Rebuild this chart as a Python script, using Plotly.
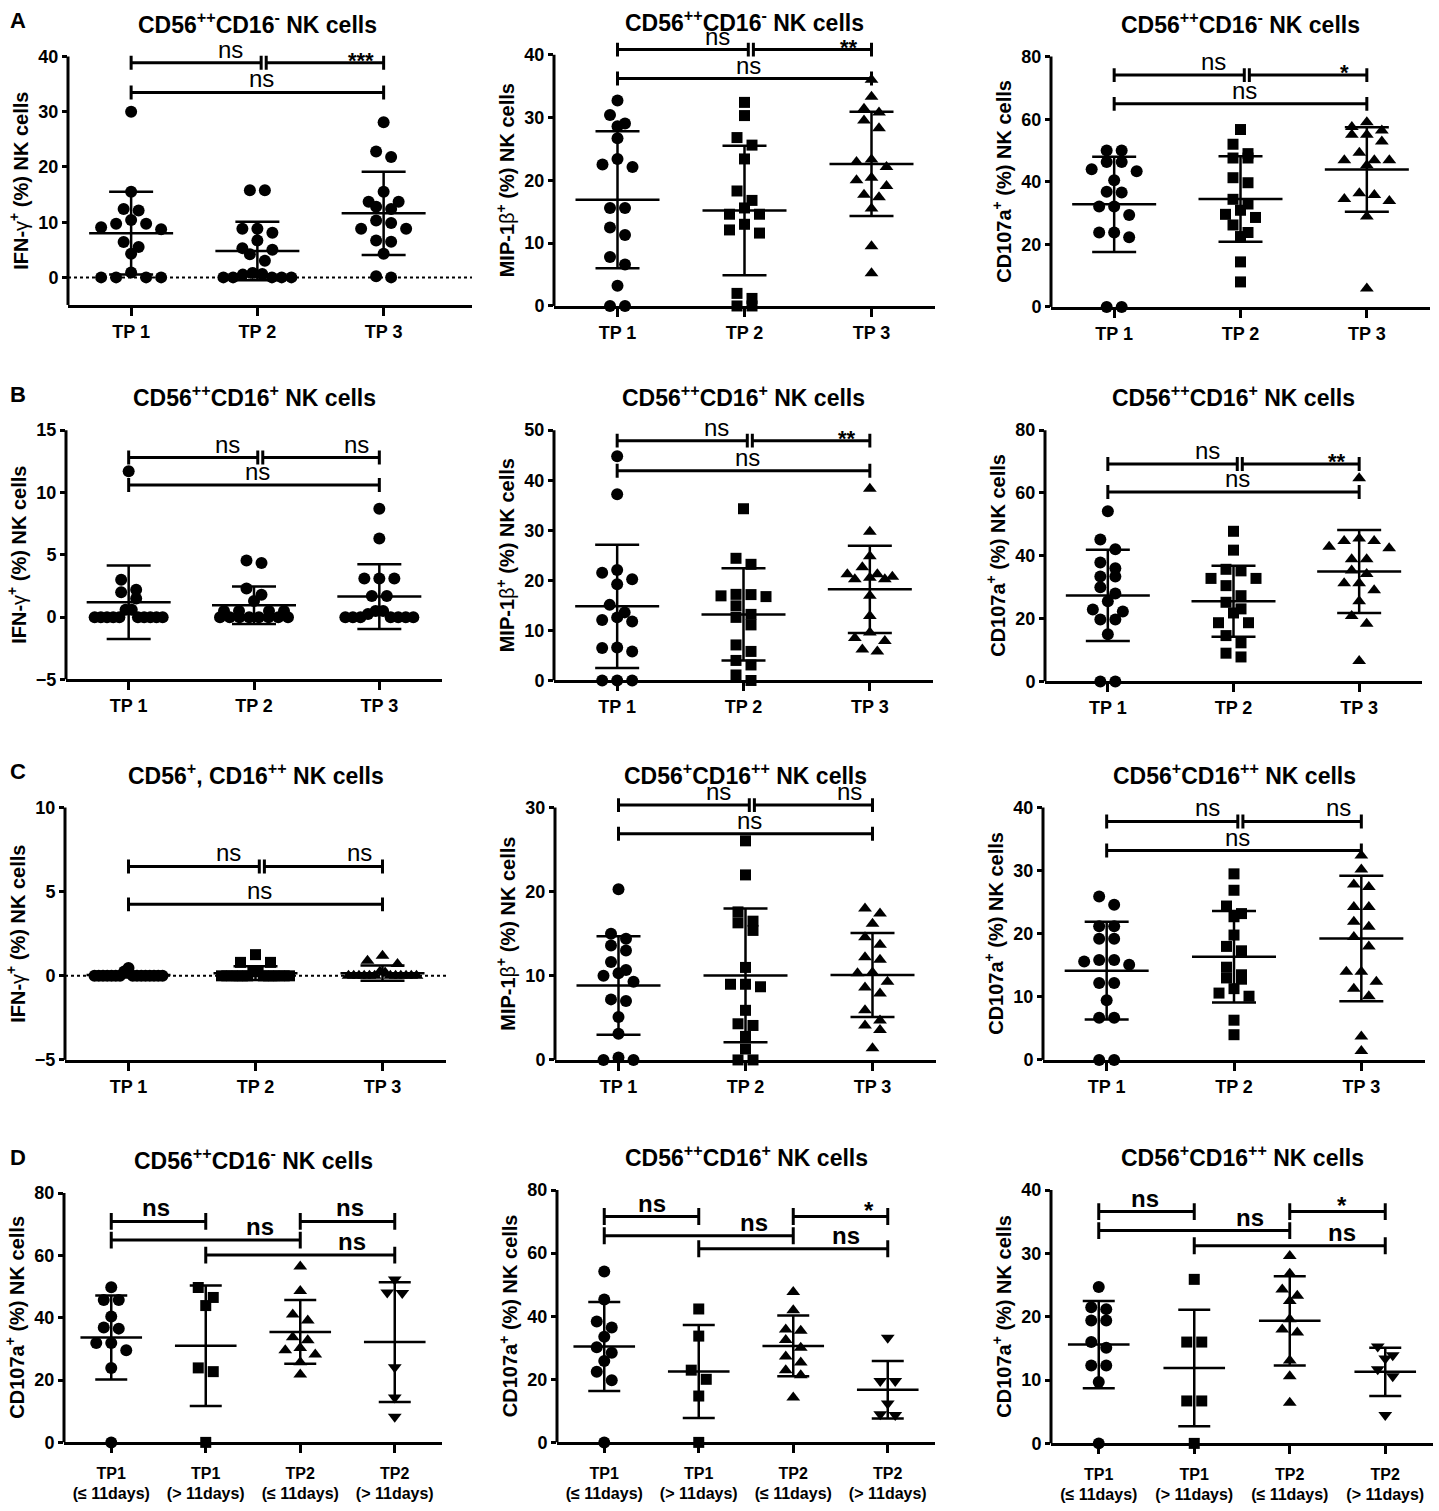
import plotly.graph_objects as go

W, H = 1439, 1511
FONT = "Arial, Liberation Sans, sans-serif"

# ---------------- data ----------------
TP3_LABELS = ["TP 1", "TP 2", "TP 3"]
TP4_LABELS = ["TP1<br>(≤ 11days)", "TP1<br>(> 11days)", "TP2<br>(≤ 11days)", "TP2<br>(> 11days)"]

# row A - CD56++CD16-
A1_TP1 = [30.0, 15.5, 12.4, 12.1, 10.4, 9.7, 9.7, 9.1, 8.7, 6.4, 5.5, 4.3, 0.9, 0, 0, 0, 0]
A1_TP2 = [15.8, 15.8, 8.8, 8.8, 8.1, 6.7, 5.3, 5.0, 4.2, 3.0, 0.8, 0.6, 0.5, 0, 0, 0, 0, 0]
A1_TP3 = [28.1, 22.8, 21.8, 15.5, 13.7, 13.7, 12.8, 12.4, 10.3, 9.85, 8.8, 8.8, 6.7, 6.45, 4.3, 0.2, 0]
A1_MEAN = [8.0, 4.8, 11.6]
A1_SD = [7.5, 5.3, 7.55]
A1_BRACKET_Y = [38.9, 33.5]
A1_STARS = ["ns", "***", "ns"]

A2_TP1 = [32.7, 30.4, 29.05, 28.6, 26.7, 23.4, 22.5, 22.1, 15.6, 15.6, 12.5, 11.3, 7.8, 6.6, 3.2, 0, 0]
A2_TP2 = [32.4, 30.3, 26.8, 25.6, 23.4, 18.3, 16.8, 15.6, 14.6, 14.6, 13.0, 12.1, 11.6, 2.0, 1.2, 0, 0]
A2_TP3 = [36.0, 33.3, 31.4, 30.8, 29.5, 28.3, 23.3, 22.9, 22.1, 20.4, 20.0, 19.1, 17.7, 17.3, 15.5, 9.5, 5.2]
A2_MEAN = [16.9, 15.2, 22.6]
A2_SD = [10.9, 10.3, 8.3]
A2_BRACKET_Y = [40.8, 36.2]
A2_STARS = ["ns", "**", "ns"]

A3_TP1 = [50.0, 50.0, 46.3, 46.3, 44.0, 43.4, 40.5, 36.8, 36.6, 32.1, 32.1, 29.4, 23.8, 23.8, 22.3, 0, 0]
A3_TP2 = [56.7, 52.0, 49.0, 47.6, 47.6, 41.3, 39.7, 34.4, 32.9, 30.9, 29.6, 28.6, 26.2, 23.8, 22.5, 14.4, 8.0]
A3_TP3 = [59.0, 57.5, 56.4, 55.0, 55.0, 52.9, 49.3, 46.9, 46.9, 46.9, 45.3, 36.3, 35.8, 34.5, 33.9, 28.9, 5.9]
A3_MEAN = [32.8, 34.5, 43.9]
A3_SD = [15.2, 13.7, 13.5]
A3_BRACKET_Y = [74.1, 64.9]
A3_STARS = ["ns", "*", "ns"]

# row B - CD56++CD16+
B1_TP1 = [11.7, 3.0, 2.2, 2.0, 1.5, 0.6, 0.6, 0, 0, 0, 0, 0, 0, 0, 0, 0, 0]
B1_TP2 = [4.55, 4.35, 2.3, 1.8, 1.3, 0.5, 0.5, 0.5, 0.5, 0, 0, 0, 0, 0, 0, 0, 0]
B1_TP3 = [8.7, 6.3, 3.1, 3.1, 3.1, 1.7, 1.7, 0.5, 0.5, 0.25, 0, 0, 0, 0, 0, 0, 0]
B1_MEAN = [1.2, 0.95, 1.65]
B1_SD = [2.95, 1.5, 2.6]
B1_BRACKET_Y = [12.8, 10.6]
B1_STARS = ["ns", "ns", "ns"]

B2_TP1 = [44.8, 37.2, 22.05, 21.5, 20.2, 19.2, 15.1, 13.6, 12.6, 12.1, 11.8, 6.6, 6.5, 5.8, 0, 0, 0]
B2_TP2 = [34.3, 24.4, 23.2, 17.2, 17.15, 16.9, 16.75, 14.9, 13.2, 12.6, 11.1, 7.1, 5.8, 4.0, 3.1, 1.1, 0]
B2_TP3 = [38.3, 29.7, 24.8, 22.6, 21.2, 21.2, 20.7, 20.5, 20.2, 20.2, 16.9, 12.9, 9.6, 8.5, 7.9, 6.2, 5.8]
B2_MEAN = [14.8, 13.2, 18.2]
B2_SD = [12.3, 9.2, 8.7]
B2_BRACKET_Y = [47.9, 41.9]
B2_STARS = ["ns", "**", "ns"]

B3_TP1 = [54.2, 45.2, 42.1, 37.9, 36.0, 33.4, 33.4, 30.0, 28.0, 25.5, 22.9, 22.3, 19.7, 19.7, 15.0, 0, 0]
B3_TP2 = [47.8, 41.8, 35.7, 35.2, 32.8, 32.8, 30.5, 27.3, 25.2, 23.1, 21.8, 18.7, 18.7, 14.6, 12.3, 9.0, 7.8]
B3_TP3 = [64.7, 45.5, 44.7, 44.7, 42.9, 42.4, 38.9, 38.9, 35.3, 34.2, 31.3, 31.3, 29.0, 25.5, 20.8, 18.4, 6.5]
B3_MEAN = [27.4, 25.5, 35.0]
B3_SD = [14.5, 11.3, 13.2]
B3_BRACKET_Y = [69.2, 60.3]
B3_STARS = ["ns", "**", "ns"]

# row C - CD56+CD16++
C1_TP1 = [0.47, 0.26, 0, 0, 0, 0, 0, 0, 0, 0, 0, 0, 0, 0, 0, 0, 0]
C1_TP2 = [1.26, 0.8, 0.8, 0.25, 0.25, 0, 0, 0, 0, 0, 0, 0, 0, 0, 0, 0, 0]
C1_TP3 = [1.2, 0.9, 0.7, 0.25, 0.2, 0, 0, 0, 0, 0, 0, 0, 0, 0, 0, 0, 0]
C1_MEAN = [0.05, 0.16, 0.16]
C1_SD = [0.15, 0.41, 0.45]
C1_BRACKET_Y = [6.5, 4.25]
C1_STARS = ["ns", "ns", "ns"]

C2_TP1 = [20.3, 15.0, 14.4, 13.6, 13.0, 11.65, 10.7, 10.3, 10.0, 9.3, 7.2, 7.0, 5.1, 3.1, 0.3, 0, 0]
C2_TP2 = [26.05, 22.0, 17.6, 16.5, 16.3, 15.4, 11.0, 9.0, 9.0, 8.7, 5.9, 4.3, 4.1, 2.8, 1.3, 0, 0]
C2_TP3 = [18.0, 17.4, 16.2, 14.6, 13.7, 12.2, 11.9, 10.4, 10.3, 9.3, 8.6, 7.9, 5.9, 4.7, 4.1, 3.55, 1.4]
C2_MEAN = [8.85, 10.05, 10.1]
C2_SD = [5.85, 7.95, 5.0]
C2_BRACKET_Y = [30.3, 26.9]
C2_STARS = ["ns", "ns", "ns"]

C3_TP1 = [25.9, 24.6, 21.2, 21.2, 19.2, 19.2, 15.85, 15.85, 15.6, 15.1, 12.2, 12.2, 9.45, 6.7, 6.7, 0, 0]
C3_TP2 = [29.5, 26.9, 24.4, 23.2, 22.7, 19.8, 18.0, 17.3, 14.7, 13.5, 13.0, 12.8, 11.3, 10.6, 10.1, 6.3, 4.0]
C3_TP3 = [32.4, 30.2, 27.8, 27.4, 24.25, 24.25, 21.9, 21.1, 19.5, 18.0, 14.0, 14.0, 12.4, 11.3, 10.1, 3.7, 1.4]
C3_MEAN = [14.15, 16.35, 19.25]
C3_SD = [7.75, 7.25, 9.95]
C3_BRACKET_Y = [37.8, 33.2]
C3_STARS = ["ns", "ns", "ns"]

# row D - CD107a by days
D1_G1 = [49.8, 45.7, 45.7, 40.4, 36.9, 36.5, 31.9, 31.9, 29.6, 23.9, 0]
D1_G2 = [49.7, 46.5, 43.9, 23.9, 22.7, 0]
D1_G3 = [56.4, 48.6, 41.0, 39.1, 33.7, 32.8, 30.3, 29.6, 28.2, 25.7, 21.8]
D1_G4 = [52.3, 48.1, 47.9, 24.1, 14.4, 8.2]
D1_MEAN = [33.65, 31.0, 35.45, 32.2]
D1_SD = [13.45, 19.3, 10.25, 19.2]
D1_BRACKET_Y = [70.9, 64.9, 60.1]
D1_STARS = ["ns", "ns", "ns", "ns"]
D1_STAR_X = [1.47, 3.53, 2.57, 3.55]

D2_G1 = [54.2, 45.3, 38.3, 36.4, 33.5, 30.2, 28.4, 25.8, 22.4, 19.7, 0]
D2_G2 = [42.3, 33.7, 22.9, 20.0, 14.7, 0]
D2_G3 = [47.7, 41.9, 35.8, 35.4, 32.5, 30.0, 27.2, 25.3, 22.9, 21.3, 14.2]
D2_G4 = [33.2, 19.5, 19.5, 12.3, 8.9, 8.7]
D2_MEAN = [30.4, 22.45, 30.6, 16.7]
D2_SD = [14.1, 14.75, 9.6, 9.1]
D2_BRACKET_Y = [71.6, 65.5, 61.4]
D2_STARS = ["ns", "*", "ns", "ns"]
D2_STAR_X = [1.5, 3.8, 2.58, 3.56]

D3_G1 = [24.7, 21.5, 21.2, 19.4, 19.4, 16.0, 15.1, 12.3, 12.3, 9.7, 0]
D3_G2 = [25.9, 16.0, 16.0, 6.7, 6.7, 0]
D3_G3 = [29.6, 26.8, 24.3, 23.3, 22.5, 19.6, 18.0, 17.5, 13.1, 10.6, 6.4]
D3_G4 = [15.3, 13.9, 13.4, 11.7, 10.6, 4.5]
D3_MEAN = [15.6, 11.9, 19.35, 11.3]
D3_SD = [6.9, 9.2, 7.05, 3.8]
D3_BRACKET_Y = [36.6, 33.6, 31.2]
D3_STARS = ["ns", "*", "ns", "ns"]
D3_STAR_X = [1.48, 3.55, 2.58, 3.55]

# ---------------- text ----------------
T_A = "CD56<sup>++</sup>CD16<sup>-</sup> NK cells"
T_B = "CD56<sup>++</sup>CD16<sup>+</sup> NK cells"
T_C1 = "CD56<sup>+</sup>, CD16<sup>++</sup> NK cells"
T_C = "CD56<sup>+</sup>CD16<sup>++</sup> NK cells"
Y_IFN = 'IFN-<span style="font-weight:normal">γ</span><sup>+</sup> (%) NK cells'
Y_MIP = 'MIP-1<span style="font-weight:normal">β</span><sup>+</sup> (%) NK cells'
Y_CD107 = "CD107a<sup>+</sup> (%) NK cells"

# bracket layout: (x start, x end, level)
BRK3 = [(1, 2.03, 0), (2.07, 3, 0), (1, 3, 1)]
BRK3_X = [1.79, 2.82, 2.03]
BRK4 = [(1, 2, 0), (3, 4, 0), (1, 3, 1), (2, 4, 2)]

MIXED = ["circle", "square", "triangle-up", "triangle-down"]
DOTS = ["circle", "circle", "circle"]
SIZE = {"circle": 12, "square": 11, "triangle-up": 12, "triangle-down": 12}

panels = [
    dict(letter="A", title=T_A, ytitle=Y_IFN, groups=[A1_TP1, A1_TP2, A1_TP3], mean=A1_MEAN, sd=A1_SD,
         yr=(-5, 40), yticks=[0, 10, 20, 30, 40], by=A1_BRACKET_Y, stars=A1_STARS, zero=True,
         box=(68, 472, 57, 307), xr=(0.5, 3.7), symbols=DOTS),
    dict(title=T_A, ytitle=Y_MIP, groups=[A2_TP1, A2_TP2, A2_TP3], mean=A2_MEAN, sd=A2_SD,
         yr=(0, 40), yticks=[0, 10, 20, 30, 40], by=A2_BRACKET_Y, stars=A2_STARS,
         box=(554, 935, 55, 308)),
    dict(title=T_A, ytitle=Y_CD107, groups=[A3_TP1, A3_TP2, A3_TP3], mean=A3_MEAN, sd=A3_SD,
         yr=(0, 80), yticks=[0, 20, 40, 60, 80], by=A3_BRACKET_Y, stars=A3_STARS,
         box=(1051, 1430, 57, 309)),
    dict(letter="B", title=T_B, ytitle=Y_IFN, groups=[B1_TP1, B1_TP2, B1_TP3], mean=B1_MEAN, sd=B1_SD,
         yr=(-5, 15), yticks=[-5, 0, 5, 10, 15], by=B1_BRACKET_Y, stars=B1_STARS,
         box=(66, 442, 433, 684), symbols=DOTS),
    dict(title=T_B, ytitle=Y_MIP, groups=[B2_TP1, B2_TP2, B2_TP3], mean=B2_MEAN, sd=B2_SD,
         yr=(0, 50), yticks=[0, 10, 20, 30, 40, 50], by=B2_BRACKET_Y, stars=B2_STARS,
         box=(554, 933, 433, 685)),
    dict(title=T_B, ytitle=Y_CD107, groups=[B3_TP1, B3_TP2, B3_TP3], mean=B3_MEAN, sd=B3_SD,
         yr=(0, 80), yticks=[0, 20, 40, 60, 80], by=B3_BRACKET_Y, stars=B3_STARS,
         box=(1045, 1422, 433, 686)),
    dict(letter="C", title=T_C1, ytitle=Y_IFN, groups=[C1_TP1, C1_TP2, C1_TP3], mean=C1_MEAN, sd=C1_SD,
         yr=(-5, 10), yticks=[-5, 0, 5, 10], by=C1_BRACKET_Y, stars=C1_STARS, zero=True,
         box=(65, 446, 813, 1067)),
    dict(title=T_C, ytitle=Y_MIP, groups=[C2_TP1, C2_TP2, C2_TP3], mean=C2_MEAN, sd=C2_SD,
         yr=(0, 30), yticks=[0, 10, 20, 30], by=C2_BRACKET_Y, stars=C2_STARS,
         box=(555, 936, 813, 1067)),
    dict(title=T_C, ytitle=Y_CD107, groups=[C3_TP1, C3_TP2, C3_TP3], mean=C3_MEAN, sd=C3_SD,
         yr=(0, 40), yticks=[0, 10, 20, 30, 40], by=C3_BRACKET_Y, stars=C3_STARS,
         box=(1043, 1425, 813, 1067)),
    dict(letter="D", title=T_A, ytitle=Y_CD107, groups=[D1_G1, D1_G2, D1_G3, D1_G4], mean=D1_MEAN, sd=D1_SD,
         yr=(0, 80), yticks=[0, 20, 40, 60, 80], by=D1_BRACKET_Y, stars=D1_STARS, starx=D1_STAR_X,
         box=(64, 442, 1201, 1452)),
    dict(title=T_B, ytitle=Y_CD107, groups=[D2_G1, D2_G2, D2_G3, D2_G4], mean=D2_MEAN, sd=D2_SD,
         yr=(0, 80), yticks=[0, 20, 40, 60, 80], by=D2_BRACKET_Y, stars=D2_STARS, starx=D2_STAR_X,
         box=(557, 935, 1198, 1452)),
    dict(title=T_C, ytitle=Y_CD107, groups=[D3_G1, D3_G2, D3_G3, D3_G4], mean=D3_MEAN, sd=D3_SD,
         yr=(0, 40), yticks=[0, 10, 20, 30, 40], by=D3_BRACKET_Y, stars=D3_STARS, starx=D3_STAR_X,
         box=(1051, 1433, 1198, 1453)),
]


def spread(vals, ppu, ppc, diam=12.0, step=15.0, half=34.0):
    # GraphPad-like horizontal spreading of points with close values
    order = sorted(range(len(vals)), key=lambda i: -vals[i])
    rows = []
    for i in order:
        if rows and rows[-1][0] - vals[i] < 0.85 * diam / ppu:
            rows[-1][1].append(i)
        else:
            rows.append((vals[i], [i]))
    offs = [0.0] * len(vals)
    for _, idx in rows:
        k = len(idx)
        gap = step if k == 1 else min(step, 2 * half / (k - 1))
        slots = sorted([j - (k - 1) / 2 for j in range(k)], key=lambda s: (abs(s), s))
        for i, s in zip(idx, slots):
            offs[i] = s * gap / ppc
    return offs


fig = go.Figure()
annotations = []
shapes = []
layout = {}

for n, p in enumerate(panels, start=1):
    xa = "x" if n == 1 else f"x{n}"
    ya = "y" if n == 1 else f"y{n}"
    left, right, top, bottom = p["box"]
    y0, y1 = p["yr"]
    ncat = len(p["groups"])
    four = ncat == 4
    xr0, xr1 = p.get("xr", (0.5, ncat + 0.5))
    ppu = (bottom - top) / (y1 - y0)
    ppc = (right - left) / (xr1 - xr0)
    ext = 0.1 * (y1 - y0)
    cats = list(range(1, ncat + 1))
    symbols = p.get("symbols", MIXED)

    for i, vals in enumerate(p["groups"]):
        offs = spread(vals, ppu, ppc)
        fig.add_trace(go.Scatter(
            x=[cats[i] + o for o in offs], y=vals, mode="markers",
            marker=dict(symbol=symbols[i], size=SIZE[symbols[i]], color="black", line=dict(width=0)),
            xaxis=xa, yaxis=ya, cliponaxis=False, showlegend=False, hoverinfo="y"))

    # mean +/- SD
    fig.add_trace(go.Scatter(
        x=cats, y=p["mean"], mode="markers",
        marker=dict(symbol="line-ew", size=44 if four else 60, color="black",
                    line=dict(width=2.5, color="black")),
        error_y=dict(type="data", array=p["sd"], width=16 if four else 22,
                     thickness=2.5, color="black"),
        xaxis=xa, yaxis=ya, cliponaxis=False, showlegend=False, hoverinfo="y"))

    # significance brackets
    h = (8.5 if four else 7.0) / ppu
    bx, by = [], []
    spec = BRK4 if four else BRK3
    labx = p.get("starx", BRK3_X)
    for (bx0, bx1, lvl), txt, lx in zip(spec, p["stars"], labx):
        yb = p["by"][lvl]
        bx += [bx0, bx0, None, bx0, bx1, None, bx1, bx1, None]
        by += [yb - h, yb + h, None, yb, yb, None, yb - h, yb + h, None]
        star = txt.startswith("*")
        annotations.append(dict(
            x=lx, y=yb, xref=xa, yref=ya, text=txt, showarrow=False,
            xanchor="center", yanchor="bottom",
            yshift=(-9 if four else -12) if star else -2,
            font=dict(family=FONT, size=24 if (four or not star) else 22, color="black",
                      weight="bold" if (four or star) else "normal")))
    fig.add_trace(go.Scatter(x=bx, y=by, mode="lines", line=dict(color="black", width=3),
                             xaxis=xa, yaxis=ya, showlegend=False, hoverinfo="skip"))

    layout["xaxis" if n == 1 else f"xaxis{n}"] = dict(
        domain=[left / W, right / W], range=[xr0, xr1], anchor=ya,
        tickvals=cats, ticktext=TP4_LABELS if four else TP3_LABELS,
        showline=True, linewidth=3, linecolor="black", ticks="outside", ticklen=8,
        tickwidth=3, tickcolor="black", showgrid=False, zeroline=False, fixedrange=True,
        ticklabelstandoff=6 if four else 0,
        tickfont=dict(family=FONT, size=16 if four else 18, color="black", weight="bold"))
    layout["yaxis" if n == 1 else f"yaxis{n}"] = dict(
        domain=[1 - bottom / H, 1 - (top - ext * ppu) / H], range=[y0, y1 + ext], anchor=xa,
        tickvals=p["yticks"], showline=False, ticks="outside", ticklen=5, tickwidth=3,
        tickcolor="black", showgrid=False, zeroline=False, fixedrange=True,
        tickfont=dict(family=FONT, size=18, color="black", weight="bold"))

    # y axis line only up to the top tick
    shapes.append(dict(type="line", xref=f"{xa} domain", x0=0, x1=0, yref=ya, y0=y0, y1=y1,
                       line=dict(color="black", width=3)))
    if p.get("zero"):
        shapes.append(dict(type="line", xref=f"{xa} domain", x0=0, x1=1, yref=ya, y0=0, y1=0,
                           layer="below", line=dict(color="black", width=2, dash="dot")))

    annotations.append(dict(
        x=(1 + ncat) / 2, y=y1, xref=xa, yref=ya, yshift=34, text=p["title"], showarrow=False,
        xanchor="center", yanchor="middle",
        font=dict(family=FONT, size=23, color="black", weight="bold")))
    annotations.append(dict(
        x=0, y=(y0 + y1) / 2, xref=f"{xa} domain", yref=ya, xshift=-49, text=p["ytitle"],
        textangle=-90, showarrow=False, xanchor="center", yanchor="middle",
        font=dict(family=FONT, size=20, color="black", weight="bold")))
    if "letter" in p:
        annotations.append(dict(
            x=8 / W, y=y1, xref="paper", yref=ya, yshift=36, text=p["letter"], showarrow=False,
            xanchor="left", yanchor="middle",
            font=dict(family=FONT, size=22, color="black", weight="bold")))

fig.update_layout(
    width=W, height=H, margin=dict(l=0, r=0, t=0, b=0),
    paper_bgcolor="white", plot_bgcolor="rgba(0,0,0,0)",
    showlegend=False, annotations=annotations, shapes=shapes,
    font=dict(family=FONT, color="black"),
    **layout)

fig.write_html("out.html", config={"displayModeBar": False},
               post_script="document.body.style.margin='0';")
